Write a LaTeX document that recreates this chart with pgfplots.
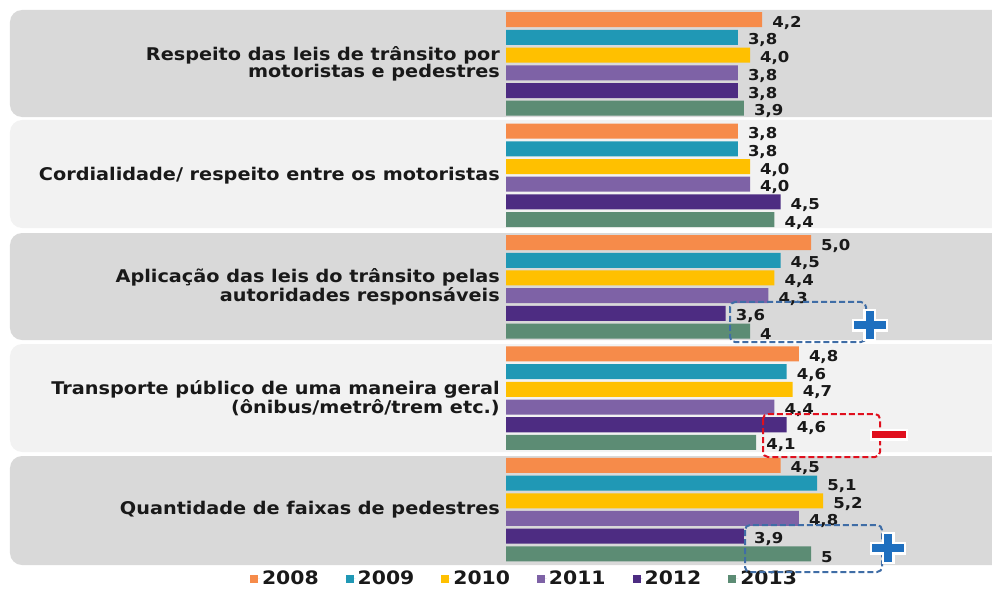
\documentclass[border=0pt]{standalone}
\usepackage{fontspec}
\setmainfont{DejaVu Sans}[FakeStretch=1.1]
\usepackage{pgfplots}
\pgfplotsset{compat=1.18}

\definecolor{c08}{HTML}{F68B4A}
\definecolor{c09}{HTML}{2098B5}
\definecolor{c10}{HTML}{FFC000}
\definecolor{c11}{HTML}{7E62A6}
\definecolor{c12}{HTML}{4D2C82}
\definecolor{c13}{HTML}{5C8C74}
\definecolor{bandA}{HTML}{D9D9D9}
\definecolor{bandB}{HTML}{F2F2F2}
\definecolor{plusblue}{HTML}{1E6FBF}
\definecolor{boxblue}{HTML}{3F6DA6}
\definecolor{minusred}{HTML}{E0101E}

\begin{document}
\begin{tikzpicture}
\begin{axis}[
    set layers,
    x=61pt, y=111.4pt,
    xmin=0, xmax=7.967,
    ymin=-0.5745, ymax=4.928,
    y dir=reverse,
    enlargelimits=false,
    clip=false,
    xbar,
    bar width=0.1347,
    axis line style={draw=none},
    tick style={draw=none},
    major tick length=0pt,
    xtick=\empty,
    ytick={0,1,2,3,4},
    yticklabels={
        {Respeito das leis de trânsito por\\motoristas e pedestres},
        {Cordialidade/ respeito entre os motoristas},
        {Aplicação das leis do trânsito pelas\\autoridades responsáveis},
        {Transporte público de uma maneira geral\\(ônibus/metrô/trem etc.)},
        {Quantidade de faixas de pedestres}},
    yticklabel style={align=right, inner sep=0pt, xshift=-6pt,
        font=\bfseries\fontsize{17.5}{17}\selectfont, text=black!90},
    point meta=explicit symbolic,
    nodes near coords,
    every node near coord/.append style={font=\bfseries\fontsize{15}{15}\selectfont,
        text=black!90, anchor=west, inner sep=0pt, xshift=10pt, yshift=-3pt},
    legend style={at={(axis cs:0.303,4.614)}, anchor=center, draw=none, fill=none,
        legend columns=6, inner sep=0pt,
        /tikz/every even column/.append style={column sep=25pt},
        font=\bfseries\fontsize{18.5}{18.5}\selectfont, text=black!90},
    legend image code/.code={%
        \fill[#1, draw=none] (0pt,-5pt) rectangle (8pt,3pt);
        \path (0pt,0pt) -- (10pt,0pt);},
]

% background bands
\begin{pgfonlayer}{axis background}
\fill[bandA, rounded corners=12pt] (axis cs:-8.131,-0.4847) rectangle (axis cs:8.5,0.4758);
\fill[bandB, rounded corners=12pt] (axis cs:-8.131,0.5027) rectangle (axis cs:8.5,1.4722);
\fill[bandA, rounded corners=12pt] (axis cs:-8.131,1.5171) rectangle (axis cs:8.5,2.4776);
\fill[bandB, rounded corners=12pt] (axis cs:-8.131,2.5135) rectangle (axis cs:8.5,3.4829);
\fill[bandA, rounded corners=12pt] (axis cs:-8.131,3.5189) rectangle (axis cs:8.5,4.4973);
\end{pgfonlayer}

\addplot[fill=c08, draw=none, bar shift=-0.3972] coordinates {
    (4.2,0) [4,2] (3.8,1) [3,8] (5.0,2) [5,0] (4.8,3) [4,8] (4.5,4) [4,5]};
\addplot[fill=c09, draw=none, bar shift=-0.2383] coordinates {
    (3.8,0) [3,8] (3.8,1) [3,8] (4.5,2) [4,5] (4.6,3) [4,6] (5.1,4) [5,1]};
\addplot[fill=c10, draw=none, bar shift=-0.0794] coordinates {
    (4.0,0) [4,0] (4.0,1) [4,0] (4.4,2) [4,4] (4.7,3) [4,7] (5.2,4) [5,2]};
\addplot[fill=c11, draw=none, bar shift=0.0794] coordinates {
    (3.8,0) [3,8] (4.0,1) [4,0] (4.3,2) [4,3] (4.4,3) [4,4] (4.8,4) [4,8]};
\addplot[fill=c12, draw=none, bar shift=0.2383] coordinates {
    (3.8,0) [3,8] (4.5,1) [4,5] (3.6,2) [3,6] (4.6,3) [4,6] (3.9,4) [3,9]};
\addplot[fill=c13, draw=none, bar shift=0.3972] coordinates {
    (3.9,0) [3,9] (4.4,1) [4,4] (4.0,2) [4] (4.1,3) [4,1] (5.0,4) [5]};

\legend{2008,2009,2010,2011,2012,2013}

% highlight boxes and signs
\begin{pgfonlayer}{axis foreground}
\draw[boxblue, line width=2pt, dash pattern=on 6pt off 3pt, rounded corners=5pt]
    (axis cs:3.672,2.1364) rectangle (axis cs:5.902,2.4955);
\draw[minusred, line width=2pt, dash pattern=on 6pt off 3pt, rounded corners=5pt]
    (axis cs:4.213,3.1418) rectangle (axis cs:6.131,3.5278);
\draw[boxblue, line width=2pt, dash pattern=on 6pt off 3pt, rounded corners=5pt]
    (axis cs:3.918,4.1382) rectangle (axis cs:6.164,4.5601);
\begin{scope}[shift={(axis cs:5.967,2.343)}]
  \draw[white, line width=13pt] (-18pt,0pt) -- (18pt,0pt) (0pt,-16pt) -- (0pt,16pt);
  \draw[plusblue, line width=8pt] (-16pt,0pt) -- (16pt,0pt) (0pt,-14pt) -- (0pt,14pt);
\end{scope}
\begin{scope}[shift={(axis cs:6.270,4.345)}]
  \draw[white, line width=13pt] (-18pt,0pt) -- (18pt,0pt) (0pt,-16pt) -- (0pt,16pt);
  \draw[plusblue, line width=8pt] (-16pt,0pt) -- (16pt,0pt) (0pt,-14pt) -- (0pt,14pt);
\end{scope}
\begin{scope}[shift={(axis cs:6.279,3.326)}]
  \draw[white, line width=12pt] (-19pt,0pt) -- (19pt,0pt);
  \draw[minusred, line width=7pt] (-17pt,0pt) -- (17pt,0pt);
\end{scope}
\end{pgfonlayer}

\coordinate (BL) at (axis cs:-8.295,4.928);
\coordinate (TR) at (axis cs:7.967,-0.5745);
\end{axis}
\pgfresetboundingbox
\path (BL) rectangle (TR);
\end{tikzpicture}
\end{document}
